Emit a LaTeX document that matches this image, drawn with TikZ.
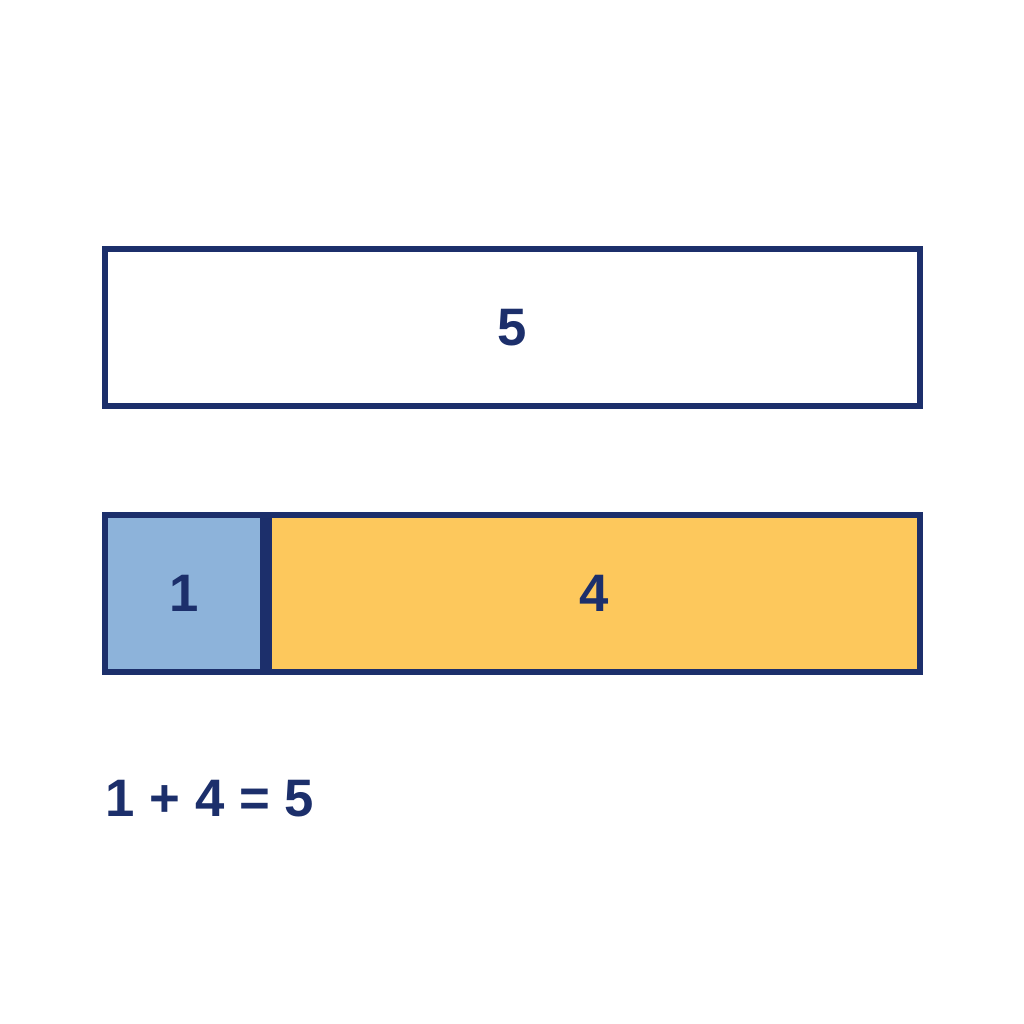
\documentclass[tikz,border=0pt]{standalone}
\usepackage{fontspec}
\setmainfont{Liberation Sans}
\usepackage{xcolor}
\usetikzlibrary{positioning}

\definecolor{navy}{HTML}{1C2F6B}
\definecolor{partblue}{HTML}{8DB3DA}
\definecolor{partorange}{HTML}{FDC85C}

\begin{document}
\begin{tikzpicture}[
        every node/.style={font=\fontsize{15}{18}\selectfont\bfseries, text=navy},
        box/.style={draw=navy, rectangle, line width=1.7pt, outer sep=0pt, minimum height=1.57cm, align=center}
    ]
    \useasboundingbox (0,0) rectangle (10.24,10.24);

    \node[box, minimum width=8.15cm, anchor=north west] (whole) at (1.05,7.75) {5};

    \node[box, fill=partblue, minimum width=1.58cm, below=1.09cm of whole.south west, anchor=north west] (part1) {1};
    \node[box, fill=partorange, minimum width=6.51cm, right=0.06cm of part1] (part4) {4};

    \node[anchor=base west, inner sep=0pt] (equation) at (1.05,2.07) {1 + 4 = 5};

\end{tikzpicture}
\end{document}
